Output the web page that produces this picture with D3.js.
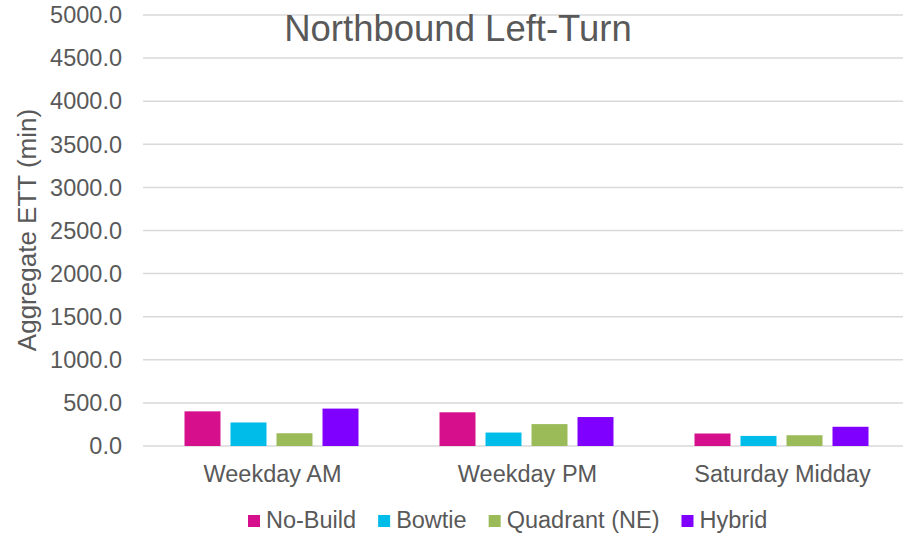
<!DOCTYPE html>
<html><head><meta charset="utf-8">
<script src="https://cdn.jsdelivr.net/npm/d3@7"></script>
<style>body{margin:0;background:#fff}svg{display:block}text{font-family:"Liberation Sans",Arial,sans-serif;fill:#595959}</style>
</head><body><svg id="c" width="903" height="536"></svg>
<script>
const categories = ["Weekday AM", "Weekday PM", "Saturday Midday"];
const seriesNames = ["No-Build", "Bowtie", "Quadrant (NE)", "Hybrid"];
const noBuild = [402, 391, 145];
const bowtie = [273, 156, 117];
const quadrant = [148, 254, 125];
const hybrid = [434, 336, 223];
const yTicks = [0, 500, 1000, 1500, 2000, 2500, 3000, 3500, 4000, 4500, 5000];
const colors = ["#D6108C", "#00BCE9", "#9BBB59", "#8000FF"];

const values = [noBuild, bowtie, quadrant, hybrid];
const svg = d3.select("#c");
const x0 = d3.scaleBand().domain(categories).range([144, 909]);
const y = d3.scaleLinear().domain([0, 5000]).range([446, 15]);

// gridlines
svg.append("g").selectAll("line").data(yTicks).join("line")
  .attr("x1", 143).attr("x2", 903)
  .attr("y1", d => y(d)).attr("y2", d => y(d))
  .attr("stroke", "#d9d9d9").attr("stroke-width", 1.5);

// y axis labels
svg.append("g").selectAll("text").data(yTicks).join("text")
  .attr("x", 122).attr("y", d => y(d)).attr("dy", "0.35em")
  .attr("text-anchor", "end").style("font-size", "23.5px")
  .text(d => d.toFixed(1));

// bars
const groupW = 174, bw = 36, pitch = 46;
categories.forEach((c, ci) => {
  const cx = x0(c) + x0.bandwidth() / 2;
  seriesNames.forEach((s, si) => {
    const bx = cx - groupW / 2 + si * pitch;
    svg.append("rect")
      .attr("x", bx).attr("width", bw)
      .attr("y", y(values[si][ci])).attr("height", y(0) - y(values[si][ci]))
      .attr("fill", colors[si]);
  });
});

// category labels
svg.append("g").selectAll("text").data(categories).join("text")
  .attr("x", d => x0(d) + x0.bandwidth() / 2 + 1).attr("y", 482)
  .attr("text-anchor", "middle").style("font-size", "23.5px").text(d => d);

// title
svg.append("text").attr("x", 458).attr("y", 41)
  .attr("text-anchor", "middle").style("font-size", "36.5px").text("Northbound Left-Turn");

// y axis title
svg.append("text").attr("transform", "translate(27,230) rotate(-90)")
  .attr("dy", "0.35em").attr("text-anchor", "middle").style("font-size", "26px")
  .text("Aggregate ETT (min)");

// legend
let lx = 248;
seriesNames.forEach((s, i) => {
  svg.append("rect").attr("x", lx).attr("y", 515).attr("width", 12).attr("height", 12).attr("fill", colors[i]);
  const t = svg.append("text").attr("x", lx + 18).attr("y", 528)
    .style("font-size", "23.5px").text(s);
  lx = lx + 18 + t.node().getComputedTextLength() + 22;
});
</script></body></html>
